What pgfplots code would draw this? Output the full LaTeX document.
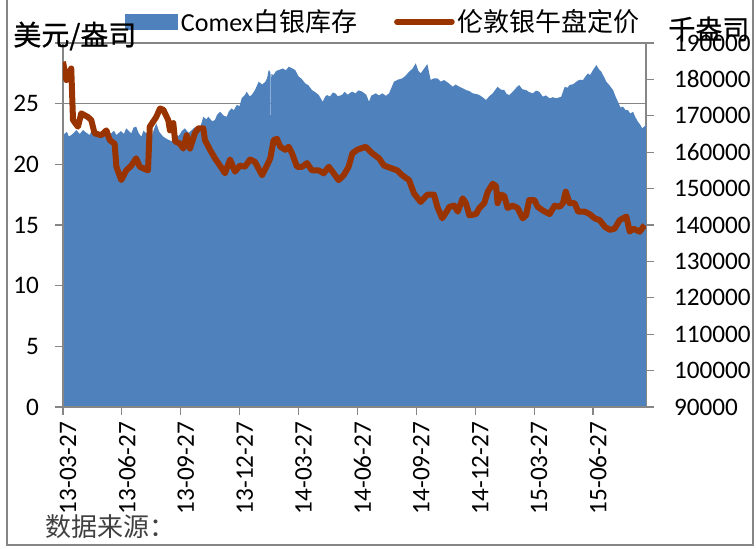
\documentclass[border=0pt]{standalone}
\usepackage{fontspec}
\setmainfont{Carlito}
\newfontfamily\cjk{Noto Sans CJK SC}
\newfontfamily\cjkb[FakeBold=0.8]{Noto Sans CJK SC}
\usepackage{pgfplots}
\pgfplotsset{compat=1.18}
\definecolor{areablue}{RGB}{79,129,189}
\definecolor{linered}{RGB}{153,51,0}
\definecolor{axgray}{RGB}{134,134,134}
\begin{document}
\begin{tikzpicture}
\useasboundingbox (-31.5pt,-70.5pt) rectangle (346.5pt,203.5pt);
\pgfplotsset{every axis/.append style={scale only axis, width=291.5pt, height=182pt,
  xmin=0, xmax=29.7, enlargelimits=false,
  /pgf/number format/assume math mode=true,
  tick label style={font=\fontsize{12.6}{15}\selectfont}}}
% grid only
\begin{axis}[ymin=0, ymax=30, ytick={0,5,10,15,20,25,30}, xtick=\empty, yticklabels={},
  ymajorgrids, grid style={axgray, line width=0.6pt},
  axis line style={draw=none}, major tick style={draw=none}]
\end{axis}
% stock area (right axis)
\begin{axis}[ymin=90000, ymax=190000,
  ytick={90000,100000,110000,120000,130000,140000,150000,160000,170000,180000,190000},
  axis y line*=right, axis x line=none, scaled y ticks=false,
  yticklabel style={/pgf/number format/1000 sep={}, /pgf/number format/fixed, xshift=6.5pt},
  tick align=outside, major tick length=4pt,
  y axis line style={axgray, line width=0.6pt, -}, ytick style={axgray, line width=0.6pt}]
\addplot[fill=areablue, draw=none] coordinates {
(0,164720) (0.2,165600) (0.3,164300) (0.42,164720) (0.55,165300) (0.68,166090) (0.85,165000) (1.02,166090) (1.2,165300) (1.36,164720) (1.5,166400) (1.61,166090)
(1.78,165000) (1.95,165190) (2.1,166300) (2.25,164900) (2.46,165190) (2.6,165900) (2.72,164720) (2.95,165800) (3.1,165000) (3.22,166560) (3.48,165190) (3.6,166800) (3.73,167000)
(3.85,165300) (3.99,164250) (4.1,165900) (4.24,165190) (4.35,166100) (4.50,164250) (4.62,166000) (4.75,167930) (4.9,165600) (5.11,164250) (5.3,163600) (5.54,163000)
(5.7,164800) (5.90,164500) (6.05,165800) (6.21,166560) (6.4,165300) (6.56,166090) (6.7,166800) (6.89,165190) (7.0,167000) (7.15,169750) (7.3,169000) (7.40,169750)
(7.6,168500) (7.74,168840) (7.85,170300) (8.00,171120) (8.2,170000) (8.34,169750) (8.45,171200) (8.59,172050) (8.7,171500) (8.85,172960) (9.0,172700) (9.10,174800)
(9.25,175600) (9.36,176620) (9.5,175400) (9.61,175700) (9.78,177080) (9.97,179360) (10.15,178600) (10.31,179360) (10.40,180400) (10.48,182570)
(10.57,182000) (10.59,164500) (10.61,181500) (10.73,181200) (10.85,182300) (10.99,182570) (11.2,183000) (11.35,182500) (11.50,183480) (11.65,183100)
(11.83,182570) (12.01,180740) (12.15,180200) (12.34,178910) (12.5,178400) (12.68,177080) (12.85,176500) (13.03,175710) (13.23,173870)
(13.35,175200) (13.45,175710) (13.6,175300) (13.75,176400) (13.87,176170) (14.0,175400) (14.21,175710) (14.35,176600) (14.5,175800) (14.72,176620) (14.91,176170) (15.05,177000) (15.25,176620)
(15.45,175800) (15.59,173870) (15.7,175500) (15.93,176170) (16.1,175600) (16.27,176170) (16.45,175500) (16.61,176170) (16.86,179360) (17.05,179900) (17.28,180280)
(17.45,181000) (17.63,182110) (17.8,182900) (17.97,184420) (18.1,182400) (18.22,181650) (18.4,183000) (18.56,184220) (18.73,179830) (18.9,180300) (19.07,180280)
(19.25,179400) (19.41,179830) (19.66,178910) (19.85,177990) (20.0,178600) (20.19,177990) (20.35,177600) (20.53,177080) (20.7,176800) (20.87,176170)
(21.05,176000) (21.21,175710) (21.4,175000) (21.55,174330) (21.7,175300) (21.89,176170) (22.14,177990) (22.3,177200) (22.48,177080) (22.6,176000) (22.74,175710)
(22.99,177080) (23.1,177800) (23.24,178450) (23.4,177300) (23.59,177080) (23.75,176500) (23.93,176170) (24.1,176900) (24.26,176620) (24.45,175250)
(24.6,175600) (24.79,174800) (24.95,175100) (25.13,174800) (25.38,175250) (25.56,177990) (25.7,177700) (25.81,178450) (26.0,178700) (26.15,179360)
(26.3,179900) (26.49,179830) (26.6,180700) (26.74,181650) (26.85,181200) (27.00,182570) (27.17,183950) (27.3,182800) (27.42,182110) (27.55,180800) (27.68,179360)
(27.85,178300) (28.02,177080) (28.15,175300) (28.27,173870) (28.4,172300) (28.53,172500) (28.65,171600) (28.78,171580) (28.9,170600) (29.04,171120) (29.15,169700) (29.29,168370)
(29.4,167600) (29.51,166560) (29.70,167470)
} \closedcycle;
\end{axis}
% price line (left axis)
\begin{axis}[ymin=0, ymax=30, ytick={0,5,10,15,20,25},
  axis x line*=bottom, axis y line*=left,
  xtick={0,3,6,9,12,15,18,21,24,27},
  xticklabels={13-03-27,13-06-27,13-09-27,13-12-27,14-03-27,14-06-27,14-09-27,14-12-27,15-03-27,15-06-27},
  xticklabel style={rotate=90, anchor=east, yshift=-2.5pt},
  yticklabel style={xshift=-4.5pt},
  tick align=outside, major tick length=4pt,
  axis line style={axgray, line width=0.6pt, -}, major tick style={axgray, line width=0.6pt},
  extra y ticks={30}, extra y tick labels={},
  legend columns=2,
  legend style={draw=none, fill=none, at={(0.106,1.058)}, anchor=west, inner sep=0pt,
    font=\fontsize{13}{15}\selectfont, nodes={inner sep=1.5pt},
    /tikz/every even column/.append style={column sep=17pt}}]
\addlegendimage{legend image code/.code={\fill[areablue] (0pt,-3.75pt) rectangle (26pt,3.75pt);}}
\addlegendentry{Comex{\cjk 白银库存}}
\addplot[linered, line width=3pt, line join=round,
  legend image code/.code={\draw[linered, line width=2.8pt, line cap=round] (0pt,0pt) -- (27.5pt,0pt);}]
coordinates {
(0.00,28.46) (0.17,26.95) (0.42,27.9) (0.51,23.65) (0.76,23.1) (0.93,24.2) (1.27,23.9)
(1.44,23.65) (1.61,22.56) (1.95,22.4) (2.21,22.8) (2.38,22.0) (2.63,21.7) (2.72,19.8)
(2.97,18.7) (3.22,19.5) (3.48,19.9) (3.73,20.5) (3.91,19.8) (4.33,19.5) (4.42,23.1)
(4.75,23.9) (4.94,24.6) (5.11,24.5) (5.36,23.65) (5.45,22.8) (5.62,23.4) (5.71,21.9)
(5.96,21.7) (6.13,21.3) (6.30,22.4) (6.47,21.3) (6.72,22.56) (6.89,22.97) (7.15,22.97)
(7.23,22.0) (7.49,21.2) (7.74,20.5) (8.08,19.7) (8.25,19.26) (8.51,20.4) (8.76,19.4)
(9.02,19.9) (9.27,19.8) (9.53,20.4) (9.78,20.2) (9.88,19.9) (10.14,19.1) (10.39,19.9)
(10.56,20.5) (10.73,22.0) (10.90,22.1) (11.07,21.45) (11.32,21.2) (11.50,21.45) (11.67,20.9)
(11.92,19.8) (12.18,19.8) (12.43,20.1) (12.68,19.5) (13.03,19.5) (13.28,19.26) (13.54,19.8)
(13.79,19.26) (14.04,18.7) (14.30,19.1) (14.55,19.8) (14.74,20.9) (14.99,21.2) (15.42,21.45)
(15.76,20.9) (16.10,20.5) (16.35,19.9) (16.69,19.7) (17.03,19.5) (17.28,19.1) (17.63,18.7)
(17.88,17.6) (18.22,16.9) (18.56,17.5) (18.90,17.5) (19.07,16.5) (19.32,15.55) (19.58,16.2)
(19.68,16.5) (19.93,16.6) (20.11,16.1) (20.36,17.2) (20.53,16.8) (20.70,15.8) (21.04,15.9)
(21.21,16.4) (21.46,16.8) (21.64,17.75) (21.89,18.4) (22.06,18.2) (22.14,16.8) (22.31,17.5)
(22.48,17.4) (22.65,16.4) (22.91,16.6) (23.16,16.4) (23.42,15.55) (23.59,15.8) (23.75,17.06)
(24.01,17.06) (24.18,16.5) (24.44,16.2) (24.79,15.9) (25.05,16.6) (25.30,16.5) (25.47,16.8)
(25.61,17.75) (25.81,16.8) (26.07,16.8) (26.24,16.1) (26.58,16.1) (26.83,15.9) (27.09,15.55)
(27.34,15.4) (27.60,14.86) (27.85,14.6) (28.10,14.7) (28.36,15.4) (28.70,15.7) (28.87,14.45)
(29.04,14.7) (29.38,14.45) (29.63,15.0)
};
\addlegendentry{{\cjk 伦敦银午盘定价}}
\end{axis}
\node[anchor=west, inner sep=0pt, font=\cjkb\fontsize{14}{16}\selectfont] at (-25pt,185.5pt) {美元/盎司};
\node[anchor=west, inner sep=0pt, font=\cjkb\fontsize{13.5}{15}\selectfont] at (302.5pt,189pt) {千盎司};
\node[anchor=west, inner sep=0pt, text=black!75, font=\cjk\fontsize{13}{15}\selectfont] at (-9pt,-60pt) {数据来源：};
\draw[axgray, line width=0.8pt] (-28pt,203.5pt) -- (-28pt,-69pt) -- (345pt,-69pt) -- (345pt,203.5pt);
\end{tikzpicture}
\end{document}
